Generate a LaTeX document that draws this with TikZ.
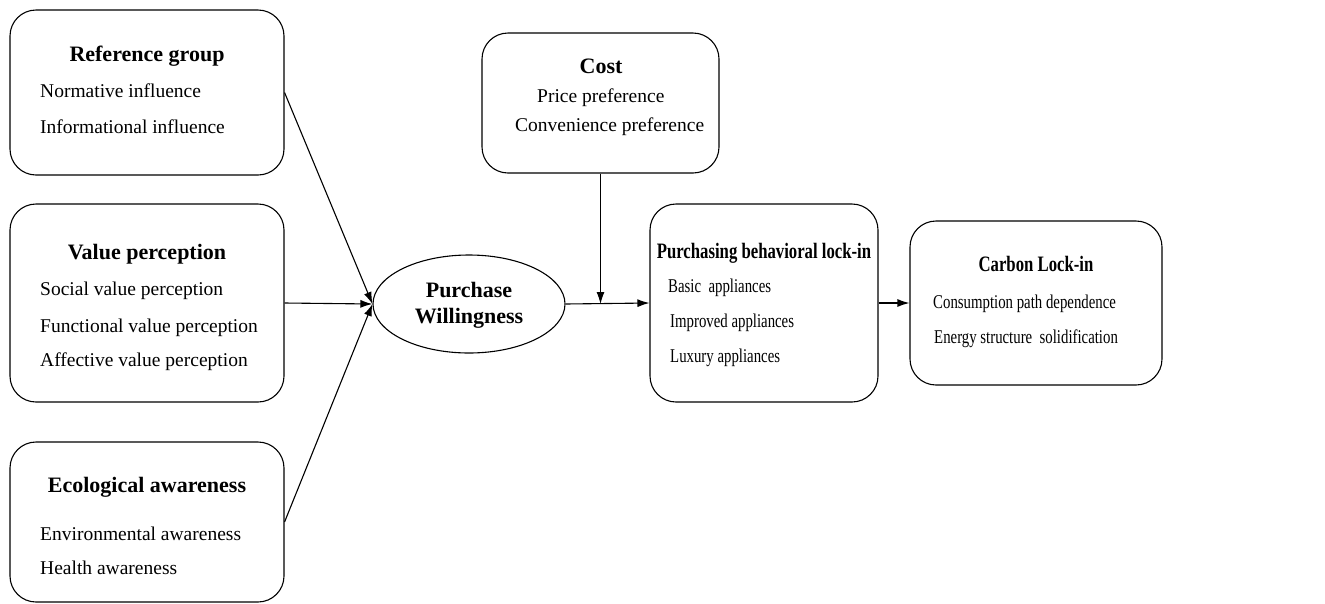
\documentclass[tikz,border=0pt]{standalone}
\usepackage{fontspec}
\usepackage{graphicx}
\setmainfont{Liberation Serif}
\usetikzlibrary{shapes.geometric,arrows.meta}
\newcommand\cnd[1]{\scalebox{0.76}[1]{#1}}
\begin{document}
\begin{tikzpicture}[x=1pt,y=-1pt,
 box/.style={draw, rounded corners=26pt, line width=1.1pt, inner sep=0, minimum width=#1},
 ttl/.style={font=\fontsize{22}{24}\selectfont\bfseries, inner sep=0, anchor=base},
 itm/.style={font=\fontsize{19.5}{22}\selectfont, anchor=base west, inner sep=0},
 arr/.style={-{Latex[length=12pt,width=8pt]}, line width=1.1pt}]
\useasboundingbox (0,0) rectangle (1325,603);
% boxes
\node[box=274pt, minimum height=165pt] (rg) at (147,92.5) {};
\node[box=274pt, minimum height=198pt] (vp) at (147,303) {};
\node[box=274pt, minimum height=160pt] (ea) at (147,522) {};
\node[box=237pt, minimum height=140pt] (co) at (600.5,103) {};
\node[box=228pt, minimum height=198pt] (pb) at (764,303) {};
\node[box=252pt, minimum height=164pt] (cl) at (1036,303) {};
\node[draw, ellipse, line width=1.1pt, minimum width=192pt, minimum height=98pt, inner sep=0] (pw) at (469,304) {};
% texts
\node[ttl] (rgt) at (147,61) {Reference group};
\node[itm] (rg1) at (40,97) {Normative influence};
\node[itm] (rg2) at (40,133) {Informational influence};
\node[ttl] (vpt) at (147,259) {Value perception};
\node[itm] (vp1) at (40,295) {Social value perception};
\node[itm] (vp2) at (40,332) {Functional value perception};
\node[itm] (vp3) at (40,366) {Affective value perception};
\node[ttl] (eat) at (147,492) {Ecological awareness};
\node[itm] (ea1) at (40,540) {Environmental awareness};
\node[itm] (ea2) at (40,574) {Health awareness};
\node[ttl] (cot) at (601,73) {Cost};
\node[itm] (co1) at (537,102) {Price preference};
\node[itm] (co2) at (515,131) {Convenience preference};
\node[ttl] (pw1) at (469,297) {Purchase};
\node[ttl] (pw2) at (469,323) {Willingness};
\node[ttl] (pbt) at (764,258) {\cnd{Purchasing behavioral lock-in}};
\node[itm] (pb1) at (668,292) {\cnd{Basic\ \ appliances}};
\node[itm] (pb2) at (670,327) {\cnd{Improved appliances}};
\node[itm] (pb3) at (670,362) {\cnd{Luxury appliances}};
\node[ttl] (clt) at (1036,271) {\cnd{Carbon Lock-in}};
\node[itm] (cl1) at (933,308) {\cnd{Consumption path dependence}};
\node[itm] (cl2) at (934,343) {\cnd{Energy structure\ \ solidification}};
% connectors
\coordinate (j) at (co.south |- pw.east);
\draw[arr] (rg.east) -- (pw.west);
\draw[arr] (vp.east) -- (pw.west);
\draw[arr] (ea.east) -- (pw.west);
\draw[arr] (pw.east) -- (pb.west);
\draw[arr] (co.south) -- (j);
\draw[arr] (pb.east) -- (cl.west);
\end{tikzpicture}
\end{document}
